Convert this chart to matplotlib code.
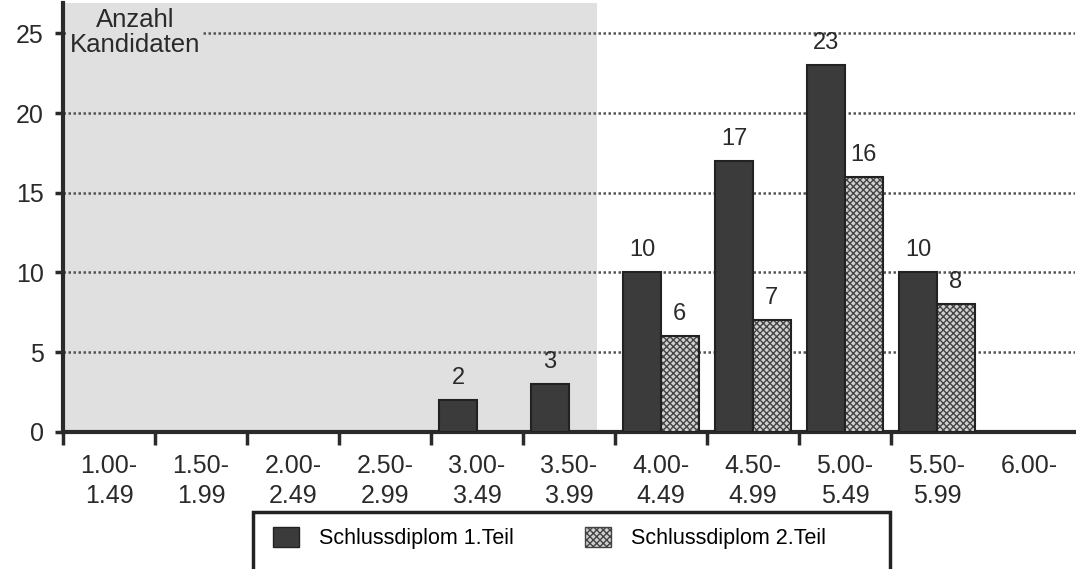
import matplotlib.pyplot as plt
from matplotlib.patches import Patch, Rectangle

plt.rcParams['font.family'] = ['Liberation Sans', 'DejaVu Sans']

# Notenklassen und Anzahl Kandidaten
klassen = ['1.00-\n1.49', '1.50-\n1.99', '2.00-\n2.49', '2.50-\n2.99', '3.00-\n3.49',
           '3.50-\n3.99', '4.00-\n4.49', '4.50-\n4.99', '5.00-\n5.49', '5.50-\n5.99', '6.00-']
teil1 = [0, 0, 0, 0, 2, 3, 10, 17, 23, 10, 0]
teil2 = [0, 0, 0, 0, 0, 0, 6, 7, 16, 8, 0]
yticks = [0, 5, 10, 15, 20, 25]

dunkel = '#3b3b3b'
schatten = '#e0e0e0'

fig = plt.figure(figsize=(10.76, 5.69), dpi=100)
ax = fig.add_axes([0.0585, 0.2408, 0.9405, 0.754])

x = list(range(len(klassen)))
b = 0.41

# grauer Hintergrund links
ax.axvspan(-0.5, 5.3, color=schatten, zorder=0, lw=0)

for y in yticks[1:]:
    ax.axhline(y, color='#555555', lw=1.8, ls=(0, (1, 1)), zorder=1)

for i in x:
    if teil1[i] > 0:
        ax.bar(i - b / 2, teil1[i], width=b, color=dunkel, edgecolor='#222222', lw=1.5, zorder=3)
        ax.annotate(str(teil1[i]), (i - b / 2, teil1[i]), xytext=(0, 8), textcoords='offset points',
                    ha='center', va='bottom', fontsize=17, color='#2a2a2a', zorder=4)
    if teil2[i] > 0:
        ax.bar(i + b / 2, teil2[i], width=b, color='#d0d0d0', edgecolor='#444444', hatch='xxxxx',
               lw=0, zorder=3)
        ax.bar(i + b / 2, teil2[i], width=b, facecolor='none', edgecolor='#222222', lw=1.5, zorder=3)
        ax.annotate(str(teil2[i]), (i + b / 2, teil2[i]), xytext=(0, 8), textcoords='offset points',
                    ha='center', va='bottom', fontsize=17, color='#2a2a2a', zorder=4)

ax.set_xlim(-0.5, 10.5)
ax.set_ylim(0, 26.9)

ax.set_yticks(yticks)
ax.tick_params(axis='y', direction='out', length=6, width=2.5, labelsize=18, pad=8,
               colors='#2a2a2a')
ax.set_xticks([i - 0.5 for i in x[:-1]])
ax.set_xticklabels([])
ax.tick_params(axis='x', which='major', direction='out', length=9, width=2.5, colors='#2a2a2a')
ax.set_xticks(x, minor=True)
ax.set_xticklabels(klassen, minor=True, fontsize=18, color='#2a2a2a', linespacing=1.3)
ax.tick_params(axis='x', which='minor', length=0, pad=16)

for s in ['top', 'right']:
    ax.spines[s].set_visible(False)
for s in ['left', 'bottom']:
    ax.spines[s].set_linewidth(3)
    ax.spines[s].set_color('#2a2a2a')

ax.text(0.28, 25.05, 'Anzahl\nKandidaten', ha='center', va='center', fontsize=18.5,
        color='#2a2a2a', linespacing=1.05, zorder=5,
        bbox=dict(facecolor=schatten, edgecolor='none', pad=1))

# Legende
handles = [Patch(facecolor=dunkel, edgecolor='#222222', label='Schlussdiplom 1.Teil'),
           Patch(facecolor='#d0d0d0', edgecolor='#444444', hatch='xxxxx', label='Schlussdiplom 2.Teil')]
fig.legend(handles=handles, loc='center left', bbox_to_anchor=(0.2435, 0.0545), ncol=2,
           frameon=False, fontsize=15.5, handlelength=1.2, handleheight=1.05,
           handletextpad=0.95, columnspacing=3.3, borderpad=0)
fig.add_artist(Rectangle((253 / 1076, -0.05), (890 - 253) / 1076, 0.05 + (569 - 512) / 569,
                         transform=fig.transFigure, facecolor='none', edgecolor='#222222', lw=2.5))

fig.savefig('out.png', dpi=100)
